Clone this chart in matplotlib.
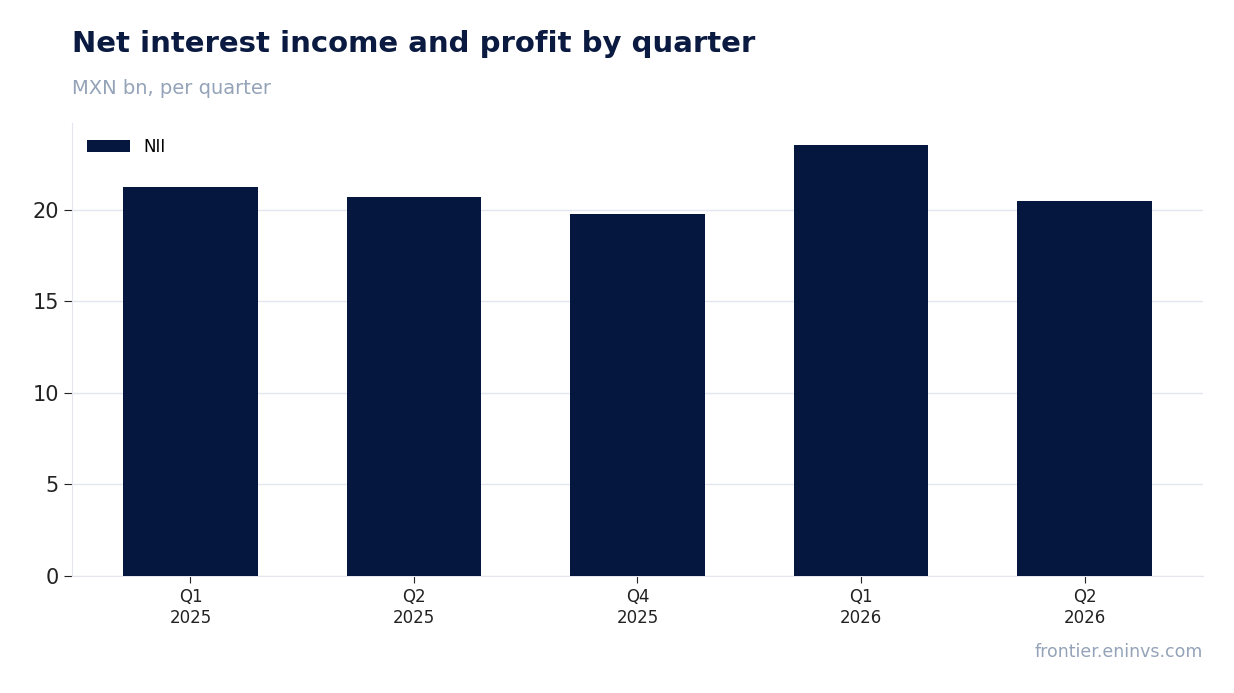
import matplotlib
matplotlib.use("Agg")
import matplotlib.pyplot as plt

quarters = ["Q1\n2025", "Q2\n2025", "Q4\n2025", "Q1\n2026", "Q2\n2026"]
nii = [21.25, 20.7, 19.78, 23.55, 20.5]

fig = plt.figure(figsize=(12.34, 6.93), dpi=100)
ax = fig.add_axes([72/1234, 1-576/693, (1203-72)/1234, (576-123)/693])
x = range(len(quarters))
ax.bar(x, nii, width=0.6, color="#05163f", label="NII", zorder=3)
ax.set_xticks(list(x))
ax.set_xticklabels(quarters, fontsize=12, color="#222222")
ax.set_ylim(0, 24.75)
ax.set_xlim(-0.53, 4.53)
ax.set_yticks([0, 5, 10, 15, 20])
ax.tick_params(axis="y", labelsize=15, colors="#222222", length=6, color="#222222")
ax.tick_params(axis="x", length=5, color="#222222")
ax.grid(axis="y", color="#e3e6ee", linewidth=1, zorder=0)
for s in ["top", "right"]:
    ax.spines[s].set_visible(False)
ax.spines["left"].set_color("#e3e6ee")
ax.spines["bottom"].set_color("#e3e6ee")
ax.legend(loc="upper left", frameon=False, fontsize=12, handlelength=2.6)
fig.text(72/1234, 1-44/693, "Net interest income and profit by quarter", fontsize=21,
         fontweight="bold", color="#0b1a40", va="center")
fig.text(72/1234, 1-88/693, "MXN bn, per quarter", fontsize=14, color="#94a3b8", va="center")
fig.text(1203/1234, 1-652/693, "frontier.eninvs.com", fontsize=12.5, color="#94a3b8",
         va="center", ha="right")
fig.savefig("out.png", dpi=100)
